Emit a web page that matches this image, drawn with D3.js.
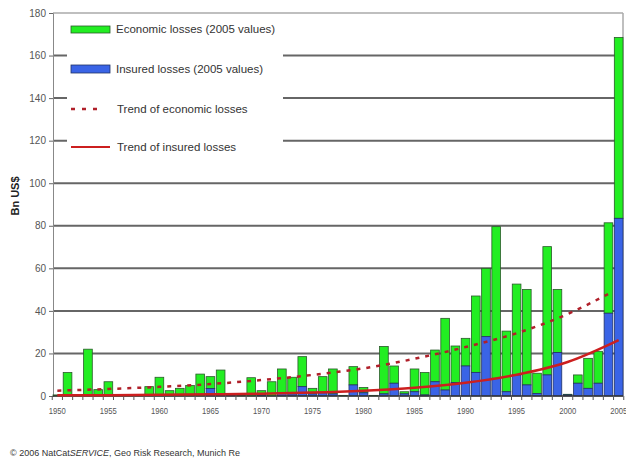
<!DOCTYPE html>
<html><head><meta charset="utf-8">
<script src="https://cdn.jsdelivr.net/npm/d3@7"></script>
<style>
html,body{margin:0;padding:0;background:#fff;}
svg{display:block;font-family:"Liberation Sans",Arial,sans-serif;}
</style></head>
<body>
<svg id="c" width="626" height="462"></svg>
<script>
const years = [1950,1951,1952,1953,1954,1955,1956,1957,1958,1959,1960,1961,1962,1963,1964,1965,1966,1967,1968,1969,
 1970,1971,1972,1973,1974,1975,1976,1977,1978,1979,1980,1981,1982,1983,1984,1985,1986,1987,1988,1989,
 1990,1991,1992,1993,1994,1995,1996,1997,1998,1999,2000,2001,2002,2003,2004,2005];
const economicLosses = [0.5,11,0.5,22,3,6.7,0.3,0.3,0.3,4.4,8.8,2.5,3.6,4.9,10.3,9.1,12.2,1.2,0.3,8.6,
 2.5,6.7,12.7,8.8,18.5,3.6,9.1,12.7,0.3,13.8,4,0.3,23.3,14.1,2,12.7,11,21.6,36.5,23.5,
 27.1,47,60,79.6,30.5,52.6,50.1,10.7,70.2,50.1,0.8,9.9,17.7,21,81.4,168.5];
const insuredLosses = [0,0,0,0,0,0,0,0,0,0,0,0,0,0,0,3.5,0.5,0.3,0,0,
 0.5,0,1.5,1,4.4,1,1.5,1,0,5.2,1.5,0,1,6,1,2,0.5,6.7,2.8,6.3,
 14.1,11.1,27.9,8.3,2,9.9,5.2,1.2,9.9,20.4,0.5,6,3.6,6,38.9,83.5];
const trendYears = [1950,1955,1960,1965,1970,1975,1980,1985,1990,1995,2000,2004];
const trendEconomic = [2.5,3.3,4.3,5.6,7.5,9.9,13,17.5,23,29.5,38.5,48];
const trendInsYears = [1950,1955,1960,1965,1970,1975,1980,1985,1990,1995,2000,2005];
const trendInsured = [0.3,0.4,0.55,0.8,1.1,1.6,2.5,3.9,6.2,10,16,26.3];
const yTicks = [0,20,40,60,80,100,120,140,160,180];
const xLabelYears = [1950,1955,1960,1965,1970,1975,1980,1985,1990,1995,2000,2005];
const legendItems = ["Economic losses (2005 values)","Insured losses (2005 values)","Trend of economic losses","Trend of insured losses"];

const svg = d3.select("#c");
const L = 53, R = 623, T = 13, B = 396;
const x = d3.scaleBand().domain(years).range([L, R]).paddingInner(0.15).paddingOuter(0);
const step = x.step();
const y = d3.scaleLinear().domain([0,180]).range([B, T]);

// gridlines
svg.append("g").selectAll("line").data(yTicks.filter(v => v > 0 && v < 180)).join("line")
  .attr("x1", L).attr("x2", R).attr("y1", d => y(d)).attr("y2", d => y(d))
  .attr("stroke", "#666").attr("stroke-width", 2);
// top & right border
svg.append("line").attr("x1", L).attr("x2", R).attr("y1", y(180)).attr("y2", y(180)).attr("stroke", "#aaa").attr("stroke-width", 1.5);
svg.append("line").attr("x1", R).attr("x2", R).attr("y1", y(180)).attr("y2", B).attr("stroke", "#aaa").attr("stroke-width", 1.5);

// y axis
const yAxis = d3.axisLeft(y).tickValues(yTicks).tickSize(4).tickPadding(3);
const gy = svg.append("g").attr("transform", `translate(${L},0)`).call(yAxis);
gy.select(".domain").attr("stroke", "#888");
gy.selectAll(".tick line").attr("stroke", "#666");
gy.selectAll("text").attr("fill", "#555").style("font-size", "10px").style("font-family", "Liberation Sans, Arial, sans-serif");

// legend box (white, covering gridlines)
svg.append("rect").attr("x", 67).attr("y", 16).attr("width", 216).attr("height", 150).attr("fill", "#fff");

// bars
const gb = svg.append("g");
years.forEach((yr, i) => {
  const e = economicLosses[i], ins = insuredLosses[i];
  gb.append("rect").attr("x", x(yr)).attr("width", x.bandwidth())
    .attr("y", y(e)).attr("height", y(ins) - y(e))
    .attr("fill", "#22ee22").attr("stroke", "#2a5a2a").attr("stroke-width", 0.8);
  if (ins > 0) {
    gb.append("rect").attr("x", x(yr)).attr("width", x.bandwidth())
      .attr("y", y(ins)).attr("height", B - y(ins))
      .attr("fill", "#3a64e6").attr("stroke", "#223366").attr("stroke-width", 0.8);
  }
});

// x axis
const gx = svg.append("g");
gx.append("line").attr("x1", L).attr("x2", R).attr("y1", B).attr("y2", B).attr("stroke", "#333").attr("stroke-width", 1.5);
gx.selectAll("line.tk").data(years.concat([2006])).join("line").attr("class","tk")
  .attr("x1", d => L + (d-1950)*step - step*0.075).attr("x2", d => L + (d-1950)*step - step*0.075)
  .attr("y1", B).attr("y2", B + 4).attr("stroke", "#555");
gx.selectAll("text").data(xLabelYears).join("text")
  .attr("x", d => x(d) + x.bandwidth()/2).attr("y", 414)
  .attr("text-anchor", "middle").attr("fill", "#555").style("font-size", "9px")
  .attr("transform", d => `translate(${x(d) + x.bandwidth()/2},0) scale(0.85,1) translate(${-(x(d) + x.bandwidth()/2)},0)`)
  .text(d => d);

// trends
const cx = yr => x(yr) + x.bandwidth()/2;
const line = d3.line().curve(d3.curveMonotoneX);
svg.append("path").attr("d", line(trendYears.map((yr,i) => [cx(yr), y(trendEconomic[i])])))
  .attr("fill", "none").attr("stroke", "#b0202a").attr("stroke-width", 2.5).attr("stroke-dasharray", "4,6");
svg.append("path").attr("d", line(trendInsYears.map((yr,i) => [cx(yr), y(trendInsured[i])])))
  .attr("fill", "none").attr("stroke", "#cc1f1f").attr("stroke-width", 2.5);

// legend
const lg = svg.append("g");
const ly = [29, 69, 109, 147];
lg.append("rect").attr("x", 71).attr("y", 26).attr("width", 39).attr("height", 7).attr("fill", "#22ee22").attr("stroke", "#2a5a2a").attr("stroke-width", 0.8);
lg.append("rect").attr("x", 71).attr("y", 65).attr("width", 39).attr("height", 8).attr("fill", "#3a64e6").attr("stroke", "#223366").attr("stroke-width", 0.8);
lg.append("line").attr("x1", 71).attr("x2", 102).attr("y1", 109).attr("y2", 109).attr("stroke", "#b0202a").attr("stroke-width", 2.5).attr("stroke-dasharray", "4,7");
lg.append("line").attr("x1", 71).attr("x2", 110).attr("y1", 147).attr("y2", 147).attr("stroke", "#cc1f1f").attr("stroke-width", 2);
lg.selectAll("text").data(legendItems).join("text")
  .attr("x", (d,i) => i < 2 ? 116 : 117).attr("y", (d,i) => ly[i] + 4)
  .attr("fill", "#333").style("font-size", "11.5px").text(d => d);

// y title
svg.append("text").attr("transform", "translate(19,196) rotate(-90)")
  .attr("text-anchor", "middle").style("font-size", "11px").style("font-weight", "bold").attr("fill", "#222")
  .text("Bn US$");

// footer
const ft = svg.append("text").attr("x", 10).attr("y", 456).style("font-size", "9px").attr("fill", "#333");
ft.append("tspan").text("© 2006 NatCat");
ft.append("tspan").style("font-style", "italic").text("SERVICE");
ft.append("tspan").text(", Geo Risk Research, Munich Re");
</script>
</body></html>
